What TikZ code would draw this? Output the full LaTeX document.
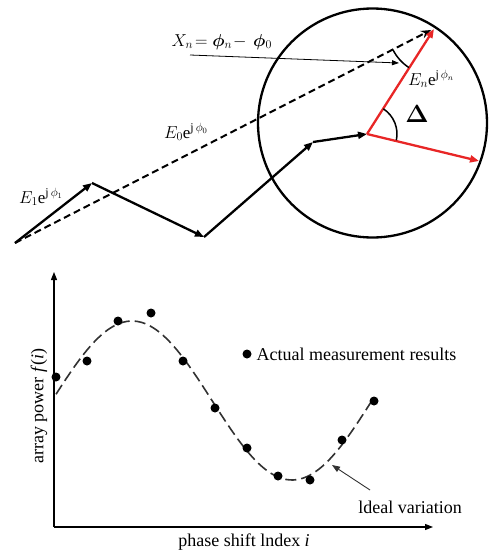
\documentclass[tikz,border=0pt]{standalone}
\usepackage{bm}
\usepackage{fontspec}
\setmainfont{Liberation Serif}
\usetikzlibrary{arrows.meta}
\definecolor{vecred}{RGB}{232,38,38}
\definecolor{curvegray}{RGB}{50,50,50}
\begin{document}
\begin{tikzpicture}[x=1pt,y=-1pt,
  vec/.style={line width=2.3pt,-{Triangle[length=9pt,width=7pt]}},
  redvec/.style={vec,draw=vecred,-{Triangle[length=9pt,width=7pt,fill=vecred]}},
  dashvec/.style={line width=2pt,dash pattern=on 7pt off 4pt,-{Stealth[length=10pt,width=8pt,open]}},
  thinarrow/.style={line width=0.8pt,-{Triangle[length=7pt,width=5pt]}},
  anglearc/.style={line width=1.5pt},
  toplabel/.style={font=\fontsize{17}{17}\selectfont},
  axis/.style={line width=1.2pt,-{Triangle[length=8pt,width=6pt]}},
  idealcurve/.style={line width=1.6pt,draw=curvegray,dash pattern=on 11pt off 5pt},
  meas/.style={circle,fill=black,inner sep=0pt,minimum size=9pt},
  plotlabel/.style={font=\fontsize{18}{18}\selectfont},
  pointer/.style={line width=0.9pt,draw=curvegray,-{Triangle[length=8pt,width=6pt]}}]
\useasboundingbox (0,0) rectangle (488,551);

% ---------- upper diagram ----------
\coordinate (O) at (15,243);
\coordinate (P1) at (92,183);
\coordinate (P2) at (204,237);
\coordinate (P3) at (313,142);
\coordinate (C) at (367,134);
\coordinate (T) at (434,29);
\coordinate (R) at (479,161);
\coordinate (D) at (431,30);
\coordinate (Cc) at (372.5,123);

\draw[line width=2.3pt] (Cc) circle[radius=114.5];

\draw[dashvec] (O) -- (D);
\draw[vec] (O) -- (P1);
\draw[vec] (P1) -- (P2);
\draw[vec] (P2) -- (P3);
\draw[vec] (P3) -- (C);
\draw[redvec] (C) -- (T);
\draw[redvec] (C) -- (R);

\draw[anglearc] ([shift={(-57:30)}]C) arc[start angle=-57,end angle=12,radius=30];
\draw[anglearc] ([shift={(123:46)}]T) arc[start angle=123,end angle=153,radius=46];

\coordinate (Xs) at (190,55);
\coordinate (Xe) at (399,63);
\draw[thinarrow] (Xs) -- (Xe);

\node[anchor=west,font=\fontsize{17}{17}\selectfont] (xn) at (168,42) {$X_n\!= \bm{\phi}_n\!-\, \bm{\phi}_0$};
\node[toplabel] (en) at (431,79) {$E_n\mathrm{e}^{\mathrm{j}\,\phi_n}$};
\node[toplabel] (e0) at (186,132) {$E_0\mathrm{e}^{\mathrm{j}\,\phi_0}$};
\node[toplabel] (e1) at (41,197) {$E_1\mathrm{e}^{\mathrm{j}\,\phi_1}$};
\node[font=\fontsize{26}{26}\selectfont] (delta) at (417,114) {$\bm{\Delta}$};

% ---------- lower plot ----------
\coordinate (Or) at (54,527);
\coordinate (Ytop) at (54,272);
\coordinate (Xend) at (433,527);
\draw[axis] (Or) -- (Ytop);
\draw[axis] (Or) -- (Xend);

\draw[idealcurve] plot[domain=56:371,samples=90,smooth] (\x,{400.5-79.5*cos((\x-132)*1.125)});

\foreach \px/\py [count=\k] in {56/377,87/361,118/321,151/313,183/361,215/408,247/448,278/476,310/480,342/440,374/401}
  \node[meas] (m\k) at (\px,\py) {};

\node[meas] (legdot) at (247,354) {};
\node[plotlabel,anchor=west] (legtext) at (253,354) {Actual measurement results};

\node[plotlabel] (ideal) at (410,507) {ldeal variation};
\coordinate (Ptip) at (332,465);
\coordinate (Pstart) at (370,490);
\draw[pointer] (Pstart) -- (Ptip);

\node[plotlabel] (xlab) at (244,542) {phase shift lndex \textit{i}};
\node[plotlabel,rotate=90] (ylab) at (39,406) {array power \textit{f}(\textit{i})};
\end{tikzpicture}
\end{document}
